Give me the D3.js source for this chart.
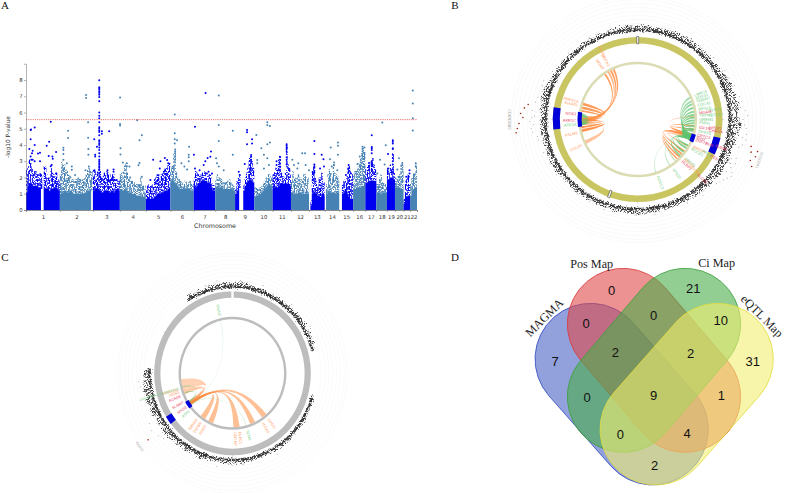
<!DOCTYPE html>
<html><head><meta charset="utf-8">
<script src="https://cdn.jsdelivr.net/npm/d3@7/dist/d3.min.js"></script>
<style>html,body{margin:0;background:#fff}svg{display:block}</style></head>
<body><svg id="c" width="785" height="493"></svg>
<script>
// ---------- Panel A data ----------
const chromNames = ["1","2","3","4","5","6","7","8","9","10","11","12","13","14","15","16","17","18","19","20","21","22"];
const chromLengths = [249,243,198,191,181,171,159,146,141,135,135,133,115,107,102,90,81,78,59,63,48,51];
const binMb = 10;
const denseTop = [
[1.1,1.5,1.6,1.7,1.6,1.5,1.5,1.5,1.5,1.4,1.4,1.3,0,1.3,1.3,1.4,1.3,1.2,1.3,1.3,1.4,1.4,1.4,1.3,1.2],
[1.0,1.2,1.1,1.2,1.2,1.1,1.1,1.2,1.2,1.1,1.0,1.0,1.0,1.1,1.0,1.0,1.1,1.0,1.1,1.1,1.2,1.2,1.3,1.2,0],
[1.2,1.4,1.3,1.5,1.3,1.2,1.1,1.1,1.2,1.2,1.2,1.2,1.1,1.2,1.2,1.1,1.2,1.3,1.3,1.2],
[1.3,1.3,1.2,1.3,1.4,1.2,1.1,1.1,1.1,1.0,1.0,1.0,0.9,0.9,0.9,0.9,0.8,0.8,0.9,0.8],
[0.7,0.8,0.8,0.7,0.8,0.7,0.8,0.9,1.0,1.0,1.0,1.1,1.1,1.2,1.2,1.2,1.3,1.4,1.3],
[1.8,1.9,1.8,1.7,1.6,1.5,1.4,1.3,1.3,1.4,1.4,1.3,1.4,1.3,1.3,1.2,1.2,1.2],
[1.6,1.4,1.5,1.6,1.7,1.8,1.8,1.9,1.8,1.8,1.7,1.7,1.6,1.4,1.2,1.2],
[1.4,1.5,1.4,1.4,1.5,1.4,1.3,1.3,1.3,1.3,1.3,1.4,1.3,1.2,1.2],
[1.0,1.2,1.3,1.3,0,0,1.2,1.5,1.7,1.8,1.9,1.9,1.8,1.7,1.6],
[0.8,0.9,0.9,1.0,1.0,1.1,1.2,1.3,1.4,1.5,1.6,1.6,1.5,1.3],
[1.5,1.4,1.5,1.4,1.5,1.6,1.6,1.7,1.6,1.6,1.6,1.7,1.6,1.5],
[1.1,1.1,1.0,1.0,1.0,1.1,1.1,1.1,1.0,1.0,1.0,1.0,1.0,1.0],
[0,0.3,1.0,1.2,1.1,1.0,0.9,0.9,0.8,1.0,1.0,0.9],
[0,1.0,1.2,1.2,1.1,1.1,1.1,1.1,1.0,1.1,1.1],
[0,0,1.0,1.1,1.3,1.2,1.0,0.8,0.7,0.7,0.7],
[1.3,1.3,1.4,1.4,1.4,1.4,1.5,1.5,1.6,1.6],
[1.7,1.7,1.8,1.8,1.8,1.8,1.8,1.8,1.7],
[1.1,1.1,1.1,1.0,1.1,1.1,1.1,1.1],
[1.9,1.9,2.0,2.0,2.0,1.9],
[1.4,1.4,1.4,1.4,1.3,1.3,1.3],
[0.4,0.8,0.8,0.9,0.9],
[0.9,1.2,1.3,1.4,1.4,1.4]];
const sparseTop = [
[2.5,2.7,3.1,3.0,2.6,2.3,2.4,2.4,2.2,2.2,2.3,2.2,0,2.7,2.7,2.2,2.0,2.0,2.7,2.3,2.2,2.1,2.3,1.9,1.8],
[2.2,3.0,2.8,2.8,2.5,2.4,2.2,2.1,2.0,1.9,1.8,1.9,1.9,2.0,1.9,1.8,1.9,1.9,2.0,2.2,2.5,2.6,2.5,2.4,0],
[2.5,2.4,2.3,2.4,2.6,2.4,2.0,2.1,2.3,2.4,2.4,2.3,2.2,2.0,2.2,2.2,1.9,1.8,1.8,1.8],
[2.2,2.3,2.0,2.9,2.8,2.3,2.0,1.9,1.8,1.8,1.7,1.7,1.6,1.6,1.6,2.0,1.6,1.5,1.5,1.3],
[1.2,1.5,1.7,1.5,1.5,1.6,1.9,2.0,2.2,2.2,1.8,2.2,2.3,2.5,2.6,2.6,2.8,2.9,2.6],
[2.6,2.8,3.5,3.5,2.4,2.0,1.9,1.8,1.7,1.7,1.8,1.7,1.8,1.7,1.8,1.6,1.6,1.6],
[2.0,2.4,2.3,2.2,2.1,2.2,2.3,2.3,2.4,2.0,2.1,2.2,2.2,1.8,1.6,1.5],
[1.8,2.2,2.0,2.0,1.9,1.8,1.7,1.7,1.8,1.8,1.9,1.7,1.6,1.5,1.5],
[1.3,1.8,2.0,2.2,0,0,1.5,2.0,2.3,2.6,3.2,3.3,3.0,2.6,2.3],
[1.4,1.4,1.3,1.3,1.4,1.5,1.6,1.8,2.0,2.0,2.2,2.2,2.0,1.9],
[2.2,2.4,2.6,2.6,3.1,3.3,2.3,2.1,2.0,2.3,3.9,2.8,2.6,2.3],
[1.8,2.4,2.0,2.0,2.0,2.2,2.0,1.9,1.8,2.2,2.2,2.0,2.0,1.8],
[0,0.6,2.4,2.7,2.0,1.6,1.4,2.0,2.0,2.3,1.8,1.7],
[0,1.6,2.2,2.5,2.3,2.0,2.8,2.3,2.2,2.1,1.8],
[0,0,1.6,1.8,1.9,2.2,2.6,2.7,2.4,2.2,1.8],
[2.2,2.4,2.4,2.6,2.9,3.2,3.5,3.8,3.6,2.6],
[2.6,2.7,2.8,2.8,3.0,3.2,2.8,2.5,2.2],
[1.6,1.6,2.0,2.2,1.7,1.7,1.6,1.5],
[2.6,2.3,2.8,2.5,3.5,2.4],
[2.0,1.9,2.1,2.2,2.8,2.9,2.4],
[0.7,1.7,2.0,2.2,1.6],
[1.6,2.0,2.2,2.2,2.8,2.6]];
const topHits = [ // [position Mb within chromosome, -log10 p], one list per chromosome
[[34,4.92],[37,4.95],[64,5.08],[34,4.35],[25,3.75],[64,4.0],[88,3.48],[103,3.52],[49,3.65],[44,3.5],[34,3.3],[39,3.1],[49,3.1],[64,3.0],[103,3.0],[152,3.95],[170,4.2],[182,5.43],[167,3.32],[194,3.3],[221,3.57],[197,3.15],[189,2.77],[182,2.7],[221,2.25]],
[[61,4.88],[61,4.43],[26,3.83],[26,3.7],[26,3.45],[26,3.1],[51,2.87],[88,2.67],[88,2.47],[193,7.07],[193,6.9],[208,5.4],[208,4.45],[210,3.75],[210,3.4],[213,2.67],[112,2.15],[149,1.85],[188,2.45]],
[[47,7.98],[47,7.55],[47,7.5],[47,7.4],[47,7.3],[47,7.2],[47,7.1],[47,6.95],[47,6.7],[47,6.0],[47,5.8],[47,5.65],[47,5.4],[47,5.1],[47,5.0],[47,4.9],[47,4.8],[47,4.6],[47,4.3],[47,4.2],[47,4.1],[47,4.0],[47,3.85],[47,3.7],[47,3.5],[47,3.3],[47,3.1],[47,3.0],[47,2.9],[47,2.8],[47,2.7],[47,2.6],[47,2.5],[47,2.3],[47,2.1],[66,4.85],[66,4.7],[120,4.85],[10,4.35],[17,3.4],[17,3.3],[30,3.9],[12,2.45],[108,2.45],[108,2.15],[152,2.5],[152,2.35],[115,1.85],[130,1.85],[145,1.85],[160,1.85],[175,1.85]],
[[2,6.93],[2,5.3],[2,5.2],[5,3.8],[5,3.42],[22,2.93],[52,2.87],[52,2.7],[71,2.67],[128,5.53],[162,4.6],[145,4.3],[145,2.9],[137,2.75],[162,2.05],[27,2.3],[52,2.2],[76,2.0]],
[[54,3.1],[108,3.0],[140,3.2],[157,3.08],[165,2.87],[103,2.55],[133,2.35],[157,2.25],[34,1.85],[71,1.65]],
[[32,5.87],[32,4.72],[32,4.35],[49,4.3],[32,4.1],[35,3.73],[35,3.6],[35,3.5],[35,3.3],[35,3.1],[138,3.9],[135,3.4],[135,3.25],[135,3.0],[81,2.87],[103,2.67],[123,2.5]],
[[10,5.13],[2,3.4],[88,7.2],[128,3.6],[123,3.28],[103,3.2],[86,3.0],[74,2.77],[10,2.55],[44,2.45],[110,2.35],[98,2.25],[135,2.25]],
[[26,7.05],[26,5.23],[26,4.25],[6,3.18],[13,2.87],[26,2.67],[62,2.45],[129,4.87],[129,3.4]],
[[88,4.92],[88,4.78],[88,4.05],[125,4.35],[125,4.1],[71,2.83],[27,2.35],[34,2.15],[118,3.38],[118,3.28],[118,3.1],[118,2.97],[108,2.77],[108,2.55]],
[[96,5.4],[96,5.23],[115,5.17],[96,4.05],[115,4.15],[15,4.62],[52,3.8],[22,3.08],[22,2.87],[71,3.4],[96,3.18],[108,2.77],[71,2.55]],
[[103,4.05],[103,3.95],[103,3.85],[103,3.75],[103,3.6],[103,3.25],[103,3.1],[103,2.8],[54,3.28],[54,3.1],[54,2.87],[54,2.67],[54,2.45],[29,3.0],[29,2.77]],
[[10,3.1],[83,3.5],[103,3.5],[22,2.77],[54,2.87],[47,2.55],[108,2.77],[132,2.45]],
[[39,4.25],[39,3.45],[93,3.4],[106,3.12],[39,2.8],[39,2.7],[39,2.6],[39,2.4],[39,2.3],[81,2.55],[110,2.67],[49,1.75]],
[[44,3.85],[98,4.15],[98,3.95],[98,3.4],[39,3.12],[69,2.93],[69,2.77],[52,2.67],[93,2.45]],
[[69,2.77],[69,2.55],[69,2.35],[49,2.15],[86,2.25]],
[[69,3.9],[69,3.75],[69,3.6],[69,3.45],[69,3.3],[83,3.85],[83,3.5],[49,3.3],[32,2.83],[69,2.67],[20,2.25]],
[[47,4.6],[47,3.87],[47,3.8],[47,3.7],[47,3.5],[47,3.0],[47,2.9],[47,2.8],[47,2.7],[47,2.5],[47,2.4],[27,2.9],[27,2.7],[27,2.5],[64,2.25]],
[[44,5.38],[69,3.98],[27,3.1],[61,2.8],[7,2.25]],
[[43,4.3],[43,4.2],[43,4.1],[43,3.8],[43,3.75],[43,3.4],[43,3.2],[43,3.0],[43,2.8],[43,2.5],[43,2.3],[8,3.45],[8,2.55],[8,2.35]],
[[29,3.18],[54,2.9],[54,2.75],[54,2.5],[17,2.5]],
[[44,2.45],[44,2.25],[20,2.05],[20,1.75],[39,2.05]],
[[20,7.35],[20,6.55],[20,5.65],[20,4.9],[42,2.87],[42,2.67],[29,2.2]]];
const genomeWideLine = 5.56;
const yTicksA = [0,1,2,3,4,5,6,7,8];

// ---------- Panel B data ----------
const bBandTop = [2.3,2.6,2.4,2.1,2.4,2.2,2.5,2.3,2.6,2.2, 2.4,2.7,2.3,2.6,2.2,2.5,2.3,2.1,2.4,2.2,
 2.6,3.0,2.8,3.4,3.0,3.6,3.2,3.8,3.4,3.0, 3.6,4.2,3.8,3.4,3.0,3.2,2.8,3.0,3.4,3.0,
 2.8,3.2,3.0,2.6,2.9,2.5,2.8,2.4,2.6,2.2, 2.4,2.0,2.3,2.1,2.4,2.0,2.2,2.5,2.1,2.3,
 2.6,2.3,2.5,2.1,2.4,2.2,2.0,2.3,2.1,2.0, 1.9,2.2,2.0,2.3,2.0,2.2,1.9,2.4,2.1,2.6,
 2.4,2.8,2.3,2.6,2.2,2.4,2.2,2.5,2.3,2.2, 2.4,2.1,2.6,2.3,2.9,3.2,2.6,3.0,2.4,2.2,
 2.0,2.3,2.0,2.2,1.9,2.1,2.0,1.8,2.1,1.9, 2.0,1.8,2.1,1.9,2.2,2.0,2.3,2.1,2.4,2.2];
const bHits = [[276,6.3],[271,6.5],[265.6,7.7],[263.6,8.0],[278,5.6],[273,7.0],[268,7.3],[105.4,8.4],[103.7,6.9],[113,8.3],[108,8.3],[110.5,7.6],[106.5,7.2],
 [80,4.5],[85,5.0],[90,4.4],[95,5.2],[88,5.5],[93,4.8],[98,5.4],[100,4.6],[101,5.5],[77,4.2],[83,4.0],[104,5.0],[106,4.4],[112,4.6],[115,5.0],[118,4.5],[120,5.2],[122,5.5],[124,5.0],[126,4.5],[121,4.0],[116,3.9],[128,4.2],[130,3.8],
 [265,4.8],[267,4.2],[269,5.0],[271,4.5],[272,4.0],[275,4.4],[263,4.5],[280,4.0],[283,3.7],[260,3.6],[258,3.4],[290,3.5],[293,3.6],[70,3.9],[65,3.3],[60,3.3],[50,3.0],[140,3.5],[150,2.9],[170,3.0],[200,2.8],[235,2.9],[250,3.1],[300,2.7],[330,2.4]];
const bHighlightCut = 5.56;
const bGridRadii = [96,100,104,108,112,116,120,123];
const bGenes = [ // name, angle, kind(0 orange,1 red,2 green), tier
["ANKS1A",286.6,0,0],["KIAA01",283.4,0,0],["NOS1",275,1,0],["AKR1C",269,1,0],["ATP2A",265,2,0],["PALM2",257,0,0],["COL4A",244.6,0,0],
["DOCK1",332,0,0],["MGMT",326,0,0],["FAM53",332.6,0,1],
["LRRC4",67,2,0],["SOX10",70,2,0],["TMEM7",73,2,0],["CDC42",76.8,2,0],["RPS15",80.7,2,0],["KLF13",82.7,2,1],["MGAM",84,1,0],["TRPM1",86.5,2,0],["OTUD7",86.6,2,1],["GREM1",90,2,0],["FMN1",93.3,2,0],["IGF1R",97.8,1,0],["NR2F2",96.7,1,1],["CHRNA",99,1,1],["SPRY2",101.4,2,0],
["CRTC3",105,1,0],["IDH2",107.5,1,0],["ZNF77",110,1,0],["BLM",110,1,1],["FURIN",109.4,1,2],["FES",117.3,1,2],["MAN2A",116.8,0,0],["PRC1",117,2,1],["RCCD1",119.6,2,0],
["ABHD2",131,0,0],["RLBP1",134,1,0],["SV2B",132.5,0,1],["SLCO3",133.4,1,2],["UNC45",130.3,2,0],["VPS33",145.3,2,0],["HDDC3",161,2,0]];
const bRibbons = [ // a1,a2,b1,b2,pull,kind(0 orange,2 green),opacity
[270,271.5,334,336,.5,0,.8],[268,270,331,333,.5,0,.8],[266,268,328,330,.5,0,.6],[269,270.5,324,326,.5,0,.8],
[285,287.5,272,273.5,.45,0,.85],[281,283.5,270,271.5,.45,0,.85],[278,280,269,270,.5,0,.85],[257,260,268,270,.45,0,.9],[261,263,266,267.5,.5,0,.9],[244,248,264,266,.5,0,.5],
[106,107,86,87.5,.4,0,.5],[105,107,100,101.5,.45,0,.8],[106,107,96,97.5,.45,0,.8],[108,109,118,119,.45,0,.85],[106,108,124,125.5,.35,0,.9],[107,109,128,129.5,.35,0,.9],[109,110,132,133.5,.4,0,.85],[110,111,135,136.5,.4,0,.8],
[264,265.5,275,276.5,.83,2,.7],[265,266.5,274,275.5,.84,2,.7],[266,267.5,273,274.5,.85,2,.7],[267,268.5,272,273.5,.86,2,.7],[264,266,269,271,.8,2,.7],
[105,107,66,68,.74,2,.6],[105,107,70,72,.74,2,.6],[106,108,73,75,.74,2,.65],[106,108,77,79,.74,2,.7],[107,109,81,83,.74,2,.7],[107,109,84,86,.74,2,.75],[108,110,87,89,.74,2,.75],[108,110,90,92,.74,2,.75],[109,111,93,95,.74,2,.75],[109,111,96,98,.74,2,.8],[110,112,99,101,.76,2,.8],[110,112,101,103,.76,2,.8],
[110,112,117,119,.7,2,.8],[110,112,120,122,.68,2,.8],[109,111,125,127,.62,2,.75],[110,111,130,132,.62,2,.7],[108,109,138,139,.6,2,.5],[109,110,145,146,.62,2,.5],[107,108,161,162,.62,2,.35]];
const bBlocks = [[263,278.5],[103,115]];
const bInnerBlocks = [[262.6,277.5],[105,113]];
const bSideNames = [["CDKN2BAS",270],["SLCO2A1",109]];

// ---------- Panel C data ----------
const cBandTop = [2.2,2.4,2.6,2.3,2.1,1.9,1.8,1.7,1.9,1.8, 1.8,2.0,1.9,1.7,2.1,1.8,2.0,2.2,2.0,2.3, 2.1,2.4,2.0,2.2,1.9,1.6,
 null,null,null,null,null,null,null,null,null,
 1.2,1.8,1.6,1.4,1.7,1.5,1.8,1.5,1.7,1.4, 1.6,1.9,1.7,2.0,1.6,1.9,1.7,1.5,1.9,1.7, 2.0,1.8,2.1,2.3,2.0,2.4,2.1,1.9,2.2,2.0, 1.8,2.1,2.2,2.5,2.1,2.3,2.6,2.2,2.7,2.4, 2.6,3.0,2.7,2.4,2.8,2.5,2.9,3.0,2.6,3.2,
 3.0,3.4,2.8,3.2,2.6,3.0,2.4,
 null,null,null,null,null,null,null,null,null,null,null,null,null,null,null,null,null,
 1.2,2.3,1.8,2.2,1.9,2.2,2.0,2.3,2.1,2.4,2.3];
const cHits = [[233,6.9],[240,4.6],[236,5.2],[231,4.4],[228,3.9],[20,2.9],[42,2.7],[60,3.0],[350,3.0],[342,2.7],[190,3.2],[150,2.9],[265,4.2],[262,4.0]];
const cGridRadii = [93,97,101,105,109,113,117,120];
const cGenes = [["KIAA1211",254,0,0],["NOS3",251,0,0],["ACAD8",247,1,0],["SLMAP",240.6,1,0],["MYO3",235,1,0],["ATP5",230,2,0],
["RBMS3",218.6,0,0],["TGFBR",213.8,0,0],["PDCD",208.6,0,0],["CMTM7",177.6,0,0],["DLEC1",173,0,0],["SCN5",165,2,0],["ITGA9",147.7,0,0],["GPD1L",141,0,0],["GNAI2",346.8,2,0]];
const cLongGene = ["LINC00000-LOC100000-AS1",254.5];
const cRibbons = [
[234,237,172,179,.3,0,.55],[234,237,154,160,.3,0,.55],[234,237,139,145,.3,0,.55],[234,237,202,208,.35,0,.55],[235,237,212,218,.4,0,.55],
[236,239,252,258,.42,0,.4],[236,239,258,264,.45,0,.4],[235,238,247,252,.5,0,.45],
[233,234,346,347,.35,2,.18],[234,235,164,165,.55,2,.25],[238,239,255,256,.7,2,.55],[237,238,248,249,.75,2,.55]];
const cBlocks = [[232,238]];
const cInnerBlocks = [[232,240]];
const cSideName = ["GNAI2",233];

// ---------- Panel D data ----------
const vennSets = ["MAGMA","Pos Map","Ci Map","eQTL Map"];
const vennCounts = [7,0,21,31,0,0,10,2,2,0,9,1,0,4,2];

// ---------- helpers ----------
const svg = d3.select("#c");
const defs = svg.append("defs");
function speckle(id,freq,slope,off,seed,disp){
  const f = defs.append("filter").attr("id",id).attr("x","-5%").attr("y","-5%").attr("width","110%").attr("height","110%").attr("color-interpolation-filters","sRGB");
  f.append("feTurbulence").attr("type","fractalNoise").attr("baseFrequency",freq).attr("numOctaves",2).attr("seed",seed).attr("result","n");
  f.append("feColorMatrix").attr("in","n").attr("type","matrix").attr("values",`0 0 0 0 0 0 0 0 0 0 0 0 0 0 0 0 0 0 ${slope} ${off}`).attr("result","m");
  let src="SourceGraphic";
  if(disp){ f.append("feDisplacementMap").attr("in","SourceGraphic").attr("in2","n").attr("scale",disp).attr("xChannelSelector","R").attr("yChannelSelector","G").attr("result","dd"); src="dd"; }
  f.append("feComposite").attr("in",src).attr("in2","m").attr("operator","in");
}
speckle("fringe","0.95 0.6",12,-5.1,4,0);
speckle("bandSp","1.3",7,-3.2,7,5);
speckle("bandCore","1.3",6,-2.3,11,2.5);
const serif = "'Liberation Serif','Times New Roman',serif";
const sans = "'DejaVu Sans',sans-serif";
[["A",5,9],["B",455,9],["C",5,261],["D",455,261]].forEach(d=>svg.append("text").attr("x",d[1]).attr("y",d[2]).attr("font-family",serif).attr("font-size",11).attr("text-anchor","middle").attr("fill","#111").text(d[0]));

// ---------- Panel A ----------
const starts = d3.cumsum([0,...chromLengths]);
const xA = d3.scaleLinear().domain([0,starts[22]]).range([26,417]);
const yA = d3.scaleLinear().domain([0,9]).range([210,63.75]);
const gA = svg.append("g");
const steel = i=>i%2==1, fillA = i=>steel(i)?"#4682b4":"#0000f0";
const gFringe = gA.append("g").attr("filter","url(#fringe)");
denseTop.forEach((arr,c)=>{
  const bins = arr.map((v,i)=>({x0:starts[c]+i*binMb,x1:starts[c]+Math.min((i+1)*binMb,chromLengths[c]),d:v,s:sparseTop[c][i]}));
  gFringe.append("g").selectAll("rect").data(bins.filter(b=>b.s>0)).join("rect").attr("x",b=>xA(b.x0)).attr("width",b=>xA(b.x1)-xA(b.x0)).attr("y",b=>yA(b.s)).attr("height",b=>yA(b.d)-yA(b.s)).attr("fill",fillA(c));
  const g = gA.append("g");
  const lineTop = d3.area().x(b=>xA(b.x)).y0(yA(0)).y1(b=>yA(b.y)).defined(b=>b.y>0).curve(d3.curveStepAfter);
  const stepPts = bins.map(b=>({x:b.x0,y:b.d}));
  stepPts.push({x:bins[bins.length-1].x1,y:bins[bins.length-1].d});
  g.append("path").attr("d",lineTop(stepPts)).attr("fill",fillA(c));
  g.selectAll("circle").data(topHits[c]).join("circle").attr("cx",d=>xA(starts[c]+d[0])).attr("cy",d=>yA(d[1])).attr("r",1).attr("fill",fillA(c));
});
gA.append("line").attr("x1",xA(0)).attr("x2",xA(starts[22])).attr("y1",yA(genomeWideLine)).attr("y2",yA(genomeWideLine)).attr("stroke","#e8524a").attr("stroke-width",.8).attr("stroke-dasharray","1.2 1");
const axL = gA.append("g").attr("transform","translate(26,0)").call(d3.axisLeft(yA).tickValues(yTicksA).tickSize(2).tickPadding(1.5));
const axB0 = gA.append("g").attr("transform","translate(0,210)").call(d3.axisBottom(xA).tickValues(starts).tickSize(2).tickFormat(""));
const axB1 = gA.append("g").attr("transform","translate(0,210)").call(d3.axisBottom(xA).tickValues(chromNames.map((n,i)=>starts[i]+chromLengths[i]/2)).tickSize(0).tickPadding(5).tickFormat((d,i)=>chromNames[i]));
[axL,axB0,axB1].forEach(a=>{a.selectAll("text").attr("font-family",sans).attr("font-size",5.3).attr("fill","#333");a.selectAll("line,path").attr("stroke","#666").attr("stroke-width",.5);});
gA.append("text").attr("x",215).attr("y",228).attr("text-anchor","middle").attr("font-family",sans).attr("font-size",6.3).attr("fill","#333").text("Chromosome");
gA.append("text").attr("transform","translate(10,137) rotate(-90)").attr("text-anchor","middle").attr("font-family",sans).attr("font-size",5.9).attr("fill","#333").text("-log10 P-value");

// ---------- circular panels ----------
const rad = d=>d*Math.PI/180;
const geneColor = ["#ff9a5c","#e8405a","#72cf82"];
function circos(cfg){
  const g = svg.append("g").attr("transform",`translate(${cfg.cx},${cfg.cy}) scale(${cfg.sx},1)`);
  const rP = d3.scalePow().exponent(1.28).domain([0,1]).range([cfg.r0,cfg.r0+2.16]);
  const pol = (a,r)=>[r*Math.sin(rad(a)),-r*Math.cos(rad(a))];
  cfg.grid.forEach(r=>g.append("circle").attr("r",r).attr("fill","none").attr("stroke","#efefef").attr("stroke-width",.35));
  const pts = cfg.band.map((v,i)=>({a:i*3,v})); pts.push({a:360,v:cfg.band[0]});
  const area = d3.areaRadial().defined(d=>d.v!==null).angle(d=>rad(d.a)).curve(d3.curveLinear);
  g.append("path").attr("d",area.innerRadius(rP(0)).outerRadius(d=>rP(d.v))(pts)).attr("fill","#444").attr("filter","url(#bandSp)");
  g.append("path").attr("d",area.innerRadius(rP(.3)).outerRadius(d=>rP(Math.min(d.v,cfg.core)))(pts)).attr("fill","#333").attr("filter","url(#bandCore)");
  g.selectAll(".h").data(cfg.hits).join("circle").attr("cx",d=>pol(d[0],rP(d[1]))[0]).attr("cy",d=>pol(d[0],rP(d[1]))[1]).attr("r",d=>d[1]>=cfg.cut?.8:.4).attr("fill",d=>d[1]>=cfg.cut?"#a02818":"#444");
  const arc = d3.arc();
  g.append("path").attr("d",arc({innerRadius:cfg.outer[0],outerRadius:cfg.outer[1],startAngle:0,endAngle:2*Math.PI})).attr("fill",cfg.ring);
  g.append("path").attr("d",arc({innerRadius:cfg.inner[0],outerRadius:cfg.inner[1],startAngle:0,endAngle:2*Math.PI})).attr("fill",cfg.ring2);
  cfg.marks.forEach(m=>g.append("path").attr("d",arc({innerRadius:cfg.outer[0]-.3,outerRadius:cfg.outer[1]+.5,startAngle:rad(m-.7),endAngle:rad(m+.7)})).attr("fill","#fff").attr("stroke",cfg.markStroke).attr("stroke-width",.5));
  cfg.ticks.forEach(a=>{const p=pol(a,cfg.outer[1]),q=pol(a,cfg.outer[1]+1.5);g.append("line").attr("x1",p[0]).attr("y1",p[1]).attr("x2",q[0]).attr("y2",q[1]).attr("stroke","#999").attr("stroke-width",.4);});
  cfg.blocks.forEach(b=>g.append("path").attr("d",arc({innerRadius:cfg.outer[0]-.2,outerRadius:cfg.outer[1]+.2,startAngle:rad(b[0]),endAngle:rad(b[1])})).attr("fill","#0000d8"));
  const R = cfg.inner[0];
  const ribbon = d=>{
    const [a1,a2,b1,b2,pull] = d, p = d3.path(), r=R, c=R*pull;
    const P=(a,x)=>pol(a,x);
    p.moveTo(...P(a1,r)); p.arc(0,0,r,rad(a1)-Math.PI/2,rad(a2)-Math.PI/2,a2<a1);
    p.bezierCurveTo(...P(a2,c),...P(b1,c),...P(b1,r));
    p.arc(0,0,r,rad(b1)-Math.PI/2,rad(b2)-Math.PI/2,b2<b1);
    p.bezierCurveTo(...P(b2,c),...P(a1,c),...P(a1,r));
    p.closePath(); return p.toString();
  };
  g.selectAll(".rb").data(cfg.ribbons).join("path").attr("d",ribbon).attr("fill",d=>d[5]==0?"#ff8a3c":"#5fc46f").attr("opacity",d=>d[6]);
  cfg.innerBlocks.forEach(b=>g.append("path").attr("d",arc({innerRadius:cfg.inner[0]-.8,outerRadius:cfg.inner[1]+.8,startAngle:rad(b[0]),endAngle:rad(b[1])})).attr("fill","#0000d8"));
  const genes = cfg.genes.map(d=>({name:d[0],a:d[1],kind:d[2],r:cfg.labelR[d[3]]}));
  if(cfg.extra) genes.push(cfg.extra);
  g.selectAll(".gn").data(genes).join("text").text(d=>d.name).attr("font-family","'Liberation Sans',sans-serif").attr("font-size",d=>d.fs||3.9).attr("font-weight",500).attr("fill",d=>geneColor[d.kind]).attr("dominant-baseline","middle")
    .attr("text-anchor",d=>d.a<180?"start":"end")
    .attr("transform",d=>{const [x,y]=pol(d.a,d.r);const rot=d.a<180?d.a-90:d.a+90;return `translate(${x},${y}) rotate(${rot})`;});
  g.selectAll(".sd").data(cfg.side).join("text").text(d=>d[0]).attr("font-family","'Liberation Sans',sans-serif").attr("font-size",3.8).attr("fill","#aaa").attr("text-anchor","middle").attr("dominant-baseline","middle")
    .attr("transform",d=>{const [x,y]=pol(d[1],cfg.sideR);const rot=d[1]<180?d[1]:d[1]-180;return `translate(${x},${y}) rotate(${rot})`;});
}
circos({cx:637.7,cy:119.5,sx:1.028,r0:88,band:bBandTop,hits:bHits,cut:bHighlightCut,grid:bGridRadii,core:1.3,outer:[76,82.5],inner:[55.3,57.8],ring:"#c9c661",ring2:"#dcdcb4",
  marks:[0,200],markStroke:"#222",ticks:[45,90,135,180,225,270,315],blocks:bBlocks,innerBlocks:bInnerBlocks,ribbons:bRibbons,genes:bGenes,labelR:[60,70,80],side:bSideNames,sideR:125});
circos({cx:232.5,cy:373.3,sx:.955,r0:85,band:cBandTop,hits:cHits,cut:bHighlightCut,grid:cGridRadii,core:1.3,outer:[75.5,82],inner:[54,56.5],ring:"#bdbdbd",ring2:"#bdbdbd",
  marks:[0],markStroke:"#fff",ticks:[60,120,180,300],blocks:cBlocks,innerBlocks:cInnerBlocks,ribbons:cRibbons,genes:cGenes,labelR:[59,69],side:[cSideName],sideR:122,
  extra:{name:cLongGene[0],a:cLongGene[1],kind:2,r:58,fs:3.3}});

// ---------- Panel D ----------
const vx = d3.scaleLinear().domain([0,885]).range([490,785]);
const vy = d3.scaleLinear().domain([0,744]).range([245,493]);
const stadium = (x1,y1,x2,y2,r)=>{
  const t=Math.atan2(y2-y1,x2-x1), p=d3.path();
  p.arc(x2,y2,r,t-Math.PI/2,t+Math.PI/2,false); p.arc(x1,y1,r,t+Math.PI/2,t+3*Math.PI/2,false); p.closePath(); return p.toString();
};
const vennShapes = [
 {cap:[302,342,488,553],fill:"#4a60c4",stroke:"#3048c0"},
 {cap:[399,237,585,455],fill:"#e04a4a",stroke:"#d83838"},
 {cap:[585,237,399,455],fill:"#4aae4a",stroke:"#3aa03a"},
 {cap:[683,342,497,553],fill:"#f2ee70",stroke:"#e2dc3c"}];
const gD = svg.append("g");
gD.selectAll("path").data(vennShapes).join("path").attr("d",d=>stadium(vx(d.cap[0]),vy(d.cap[1]),vx(d.cap[2]),vy(d.cap[3]),167/3)).attr("fill",d=>d.fill).attr("fill-opacity",.6).attr("stroke",d=>d.stroke).attr("stroke-width",.8);
const countSpots = [[195,350],[365,135],[610,130],[788,348],[288,235],[491,210],[692,226],[376,322],[602,325],[291,458],[491,452],[694,450],[391,567],[591,565],[494,662]];
gD.selectAll(".n").data(vennCounts).join("text").attr("x",(d,i)=>vx(countSpots[i][0])).attr("y",(d,i)=>vy(countSpots[i][1])).attr("dy",".36em").attr("text-anchor","middle").attr("font-family","'Liberation Sans',sans-serif").attr("font-size",13).attr("fill","#111").text(d=>d);
const setSpots = [[163,218,-45],[305,57,0],[680,55,0],[816,213,45]];
gD.selectAll(".l").data(vennSets).join("text").attr("transform",(d,i)=>`translate(${vx(setSpots[i][0])},${vy(setSpots[i][1])}) rotate(${setSpots[i][2]})`).attr("dy",".33em").attr("text-anchor","middle").attr("font-family",serif).attr("font-size",12.2).attr("fill","#222").text(d=>d);
</script></body></html>
